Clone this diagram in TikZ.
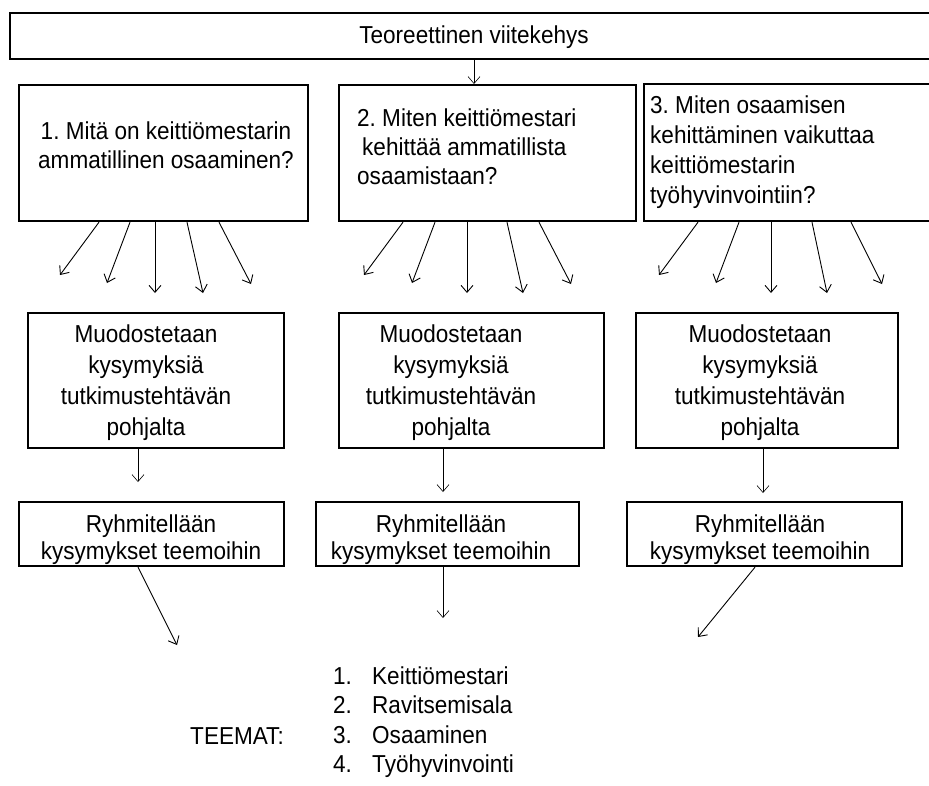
\documentclass[tikz,border=0pt]{standalone}
\usepackage{fontspec}
\setmainfont{Liberation Sans}[FakeStretch=0.92]
\usetikzlibrary{arrows.meta,calc}
\frenchspacing

\begin{document}
\begin{tikzpicture}[x=1pt,y=-1pt,
  box/.style={draw, line width=2.2pt, rectangle, inner sep=0pt, anchor=north west},
  txt/.style={inner sep=0pt, font=\fontsize{24.5}{29}\selectfont},
  arr/.style={-{Straight Barb[length=7pt,width=12pt]}, line width=0.9pt},
  thinarr/.style={-{Straight Barb[length=7pt,width=12pt]}, line width=0.6pt}]

  \useasboundingbox (0,0) rectangle (929,785);
  \fill[white] (0,0) rectangle (929,785);

  % header box
  \node[box, minimum width=935pt, minimum height=46pt] (top) at (9,12) {};
  \node[txt] (toptxt) at (474,37) {Teoreettinen viitekehys};

  % research questions
  \node[box, minimum width=289pt, minimum height=136pt] (q1) at (18,84) {};
  \node[box, minimum width=297pt, minimum height=136pt] (q2) at (338,84) {};
  \node[box, minimum width=300pt, minimum height=137pt] (q3) at (643,83) {};

  \node[txt, align=center] (q1txt) at (166,145)
    {1. Mitä on keittiömestarin\\ammatillinen osaaminen?};
  \node[txt, align=left, anchor=west] (q2txt) at (357,147)
    {2. Miten keittiömestari\\\hspace*{5pt}kehittää ammatillista\\osaamistaan?};
  \node[txt, align=left, anchor=west, font=\fontsize{24.5}{30}\selectfont] (q3txt) at (650,152)
    {3. Miten osaamisen\\kehittäminen vaikuttaa\\keittiömestarin\\työhyvinvointiin?};

  % question forming boxes
  \node[box, minimum width=256pt, minimum height=135pt] (r1) at (27,312) {};
  \node[box, minimum width=265pt, minimum height=135pt] (r2) at (338,312) {};
  \node[box, minimum width=262pt, minimum height=135pt] (r3) at (635,312) {};
  \foreach \n/\x in {r1/146, r2/451, r3/760} {
    \node[txt, align=center, font=\fontsize{24.5}{31}\selectfont] (\n txt) at (\x,383)
      {Muodostetaan\\kysymyksiä\\tutkimustehtävän\\pohjalta};
  }

  % grouping boxes
  \node[box, minimum width=265pt, minimum height=64pt] (s1) at (18,501) {};
  \node[box, minimum width=263pt, minimum height=64pt] (s2) at (315,501) {};
  \node[box, minimum width=275pt, minimum height=64pt] (s3) at (626,501) {};
  \foreach \n/\x in {s1/151, s2/441, s3/760} {
    \node[txt, align=center, font=\fontsize{24.5}{27}\selectfont] (\n txt) at (\x,540)
      {Ryhmitellään\\kysymykset teemoihin};
  }

  % themes
  \node[txt] (teemat) at (237,736) {TEEMAT:};
  \node[txt, align=left, anchor=west, font=\fontsize{24.5}{29.5}\selectfont] (list) at (333,722)
    {\makebox[39pt][l]{1.}Keittiömestari\\
     \makebox[39pt][l]{2.}Ravitsemisala\\
     \makebox[39pt][l]{3.}Osaaminen\\
     \makebox[39pt][l]{4.}Työhyvinvointi};

  % arrow tips below the question boxes
  \coordinate (a1) at (60,275);  \coordinate (a2) at (107,283);
  \coordinate (a3) at (155,293); \coordinate (a4) at (203,293);
  \coordinate (a5) at (251,284);
  \coordinate (b1) at (364,275); \coordinate (b2) at (412,283);
  \coordinate (b3) at (467,293); \coordinate (b4) at (523,293);
  \coordinate (b5) at (571,284);
  \coordinate (c1) at (659,275); \coordinate (c2) at (716,283);
  \coordinate (c3) at (771,293); \coordinate (c4) at (827,293);
  \coordinate (c5) at (882,284);

  \foreach \s/\t in {81/a1, 112/a2, 137/a3, 169/a4, 201/a5}
    \draw[arr] ([xshift=\s pt]q1.south west) -- (\t);
  \foreach \s/\t in {65/b1, 97/b2, 129/b3, 169/b4, 201/b5}
    \draw[arr] ([xshift=\s pt]q2.south west) -- (\t);
  \foreach \s/\t in {55/c1, 96/c2, 128/c3, 169/c4, 208/c5}
    \draw[arr] ([xshift=\s pt]q3.south west) -- (\t);

  % header to questions
  \draw[thinarr] ([xshift=465pt]top.south west) -- ([xshift=136pt]q2.north west);

  % question forming to grouping
  \coordinate (d1) at (138,482);
  \coordinate (d2) at (443,492);
  \coordinate (d3) at (763,493);
  \draw[thinarr] ([xshift=111pt]r1.south west) -- (d1);
  \draw[thinarr] ([xshift=105pt]r2.south west) -- (d2);
  \draw[thinarr] ([xshift=128pt]r3.south west) -- (d3);

  % grouping to themes
  \coordinate (e1) at (177,645);
  \coordinate (e2) at (443,618);
  \coordinate (e3) at (698,637);
  \draw[arr] ([xshift=120pt]s1.south west) -- (e1);
  \draw[thinarr] ([xshift=128pt]s2.south west) -- (e2);
  \draw[arr] ([xshift=129pt]s3.south west) -- (e3);
\end{tikzpicture}
\end{document}
